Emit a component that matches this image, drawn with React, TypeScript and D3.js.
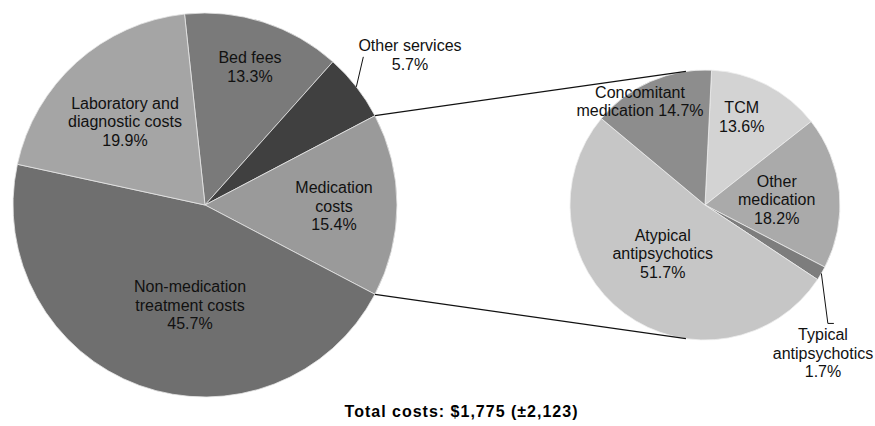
import React from "react";
import * as d3 from "d3";

// ---- data ----
const mainCategories = ["Bed fees", "Other services", "Medication costs", "Non-medication treatment costs", "Laboratory and diagnostic costs"];
const mainValues = [13.3, 5.7, 15.4, 45.7, 19.9];
const mainLabelNames = [["Bed fees"], ["Other services"], ["Medication", "costs"], ["Non-medication", "treatment costs"], ["Laboratory and", "diagnostic costs"]];

const subCategories = ["TCM", "Other medication", "Typical antipsychotics", "Atypical antipsychotics", "Concomitant medication"];
const subValues = [13.6, 18.2, 1.7, 51.7, 14.7];
const subLabelNames = [["TCM"], ["Other", "medication"], ["Typical", "antipsychotics"], ["Atypical", "antipsychotics"], ["Concomitant", "medication"]];

const titleText = "Total costs: $1,775 (±2,123)";
const splitIndex = 2; // Medication costs is exploded into the second pie

// ---- layout / style ----
const W = 875, H = 426;
const mainC = { x: 205, y: 205, r: 192 };
const subC = { x: 705, y: 205, r: 135 };
const subStartDeg = 2.8;
const mainColors = ["#7a7a7a", "#404040", "#9a9a9a", "#6f6f6f", "#a5a5a5"];
const subColors = ["#d3d3d3", "#aaaaaa", "#7d7d7d", "#c6c6c6", "#8d8d8d"];
const lineH = 18.7;
// label anchor: x center, first baseline (relative to pie centre)
const mainLabelPos = [[45, -141.7], [205, -154], [129, -12], [-15, 87], [-80, -96.5]];
const mainPctInline = [false, false, false, false, false];
const subLabelPos = [[36.7, -91.7], [71.7, -18.3], [118, 135], [-42.3, 35.5], [-65, -107.5]];
const subPctInline = [false, false, false, false, true];

const font = "'Liberation Sans', Arial, Helvetica, sans-serif";
const rad = (d: number) => (d * Math.PI) / 180;

export default function App() {
  const mainTotal = d3.sum(mainValues);
  const before = d3.sum(mainValues.slice(0, splitIndex));
  const mainStart = rad(90) - ((before + mainValues[splitIndex] / 2) / mainTotal) * 2 * Math.PI;

  const mainPie = d3.pie<number>().sort(null).value((d) => d).startAngle(mainStart).endAngle(mainStart + 2 * Math.PI);
  const subPie = d3.pie<number>().sort(null).value((d) => d).startAngle(rad(subStartDeg)).endAngle(rad(subStartDeg) + 2 * Math.PI);
  const mainArcs = mainPie(mainValues);
  const subArcs = subPie(subValues);
  const mainArc = d3.arc<d3.PieArcDatum<number>>().innerRadius(0).outerRadius(mainC.r);
  const subArc = d3.arc<d3.PieArcDatum<number>>().innerRadius(0).outerRadius(subC.r);

  // point on circle given d3 angle (clockwise from 12 o'clock)
  const onCircle = (c: { x: number; y: number }, r: number, a: number) => [c.x + r * Math.sin(a), c.y - r * Math.cos(a)];

  // connector lines: from split slice edges, tangent to second pie
  const split = mainArcs[splitIndex];
  const pTop = onCircle(mainC, mainC.r, split.startAngle);
  const pBot = onCircle(mainC, mainC.r, split.endAngle);
  const tangent = (p: number[], upper: boolean) => {
    const vx = p[0] - subC.x, vy = p[1] - subC.y;
    const d = Math.hypot(vx, vy);
    const phi = Math.atan2(vy, vx);
    const alpha = Math.acos(subC.r / d);
    const a = upper ? phi + alpha : phi - alpha;
    return [subC.x + subC.r * Math.cos(a), subC.y + subC.r * Math.sin(a)];
  };
  const tTop = tangent(pTop, true);
  const tBot = tangent(pBot, false);

  // leader lines
  const other = mainArcs[1];
  const otherPt = onCircle(mainC, mainC.r, (other.startAngle + other.endAngle) / 2);
  const typ = subArcs[2];
  const typPt = onCircle(subC, subC.r, (typ.startAngle + typ.endAngle) / 2);

  const fmt = (v: number) => `${v.toFixed(1)}%`;

  const renderLabel = (c: { x: number; y: number }, pos: number[], names: string[], value: number, inline: boolean, key: string) => {
    const lines = inline ? [...names.slice(0, -1), `${names[names.length - 1]} ${fmt(value)}`] : [...names, fmt(value)];
    return (
      <text key={key} x={c.x + pos[0]} y={c.y + pos[1]} textAnchor="middle" fontFamily={font} fontSize={16} fill="#111">
        {lines.map((l, i) => (
          <tspan key={i} x={c.x + pos[0]} dy={i === 0 ? 0 : lineH}>
            {l}
          </tspan>
        ))}
      </text>
    );
  };

  return (
    <svg width={W} height={H} style={{ position: "absolute", left: 0, top: 0, background: "#fff" }}>
      <g transform={`translate(${mainC.x},${mainC.y})`}>
        {mainArcs.map((a, i) => (
          <path key={mainCategories[i]} d={mainArc(a) || ""} fill={mainColors[i]} stroke="#e6e6e6" strokeWidth={0.8} />
        ))}
      </g>
      <g transform={`translate(${subC.x},${subC.y})`}>
        {subArcs.map((a, i) => (
          <path key={subCategories[i]} d={subArc(a) || ""} fill={subColors[i]} stroke="#eeeeee" strokeWidth={0.8} />
        ))}
      </g>
      <line x1={pTop[0]} y1={pTop[1]} x2={tTop[0]} y2={tTop[1]} stroke="#111" strokeWidth={1.2} />
      <line x1={pBot[0]} y1={pBot[1]} x2={tBot[0]} y2={tBot[1]} stroke="#111" strokeWidth={1.2} />
      <polyline points={`${otherPt[0]},${otherPt[1]} ${otherPt[0] + 7},${otherPt[1] - 30}`} fill="none" stroke="#111" strokeWidth={1} />
      <polyline
        points={`${typPt[0]},${typPt[1]} ${typPt[0] + 6.5},${typPt[1] + 50} ${typPt[0] + 12.5},${typPt[1] + 50}`}
        fill="none"
        stroke="#111"
        strokeWidth={1}
      />
      {mainArcs.map((a, i) => renderLabel(mainC, mainLabelPos[i], mainLabelNames[i], mainValues[i], mainPctInline[i], "m" + i))}
      {subArcs.map((a, i) => renderLabel(subC, subLabelPos[i], subLabelNames[i], subValues[i], subPctInline[i], "s" + i))}
      <text x={461.5} y={417.3} textAnchor="middle" fontFamily={font} fontSize={16} fontWeight="bold" letterSpacing={1} fill="#000">
        {titleText}
      </text>
    </svg>
  );
}
